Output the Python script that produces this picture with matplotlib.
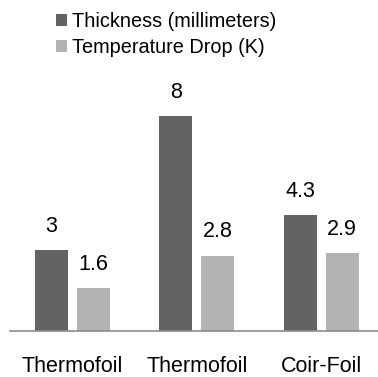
import matplotlib.pyplot as plt
import numpy as np

plt.rcParams['font.family'] = ['Liberation Sans', 'DejaVu Sans']

# chart data
categories = ['Thermofoil', 'Thermofoil', 'Coir-Foil']
thickness = [3, 8, 4.3]
temp_drop = [1.6, 2.8, 2.9]
series_names = ['Thickness (millimeters)', 'Temperature Drop (K)']

dark = '#636363'
light = '#b3b3b3'

fig = plt.figure(figsize=(3.78, 3.77), dpi=100)
# axes placed in pixels: baseline at y=330, 26.9 px per unit
ax = fig.add_axes([10 / 378, 46 / 377, 373.5 / 378, 269 / 377])

x = np.arange(len(categories))
w = 0.265
off = 0.169
b1 = ax.bar(x - off, thickness, w, color=dark, label=series_names[0])
b2 = ax.bar(x + off, temp_drop, w, color=light, label=series_names[1])

for bars, vals in [(b1, thickness), (b2, temp_drop)]:
    for rect, v in zip(bars, vals):
        ax.annotate(f'{v:g}', (rect.get_x() + rect.get_width() / 2, v),
                    xytext=(0, 9.5), textcoords='offset points',
                    ha='center', va='bottom', fontsize=15.5, color='black')

ax.set_xlim(-0.5, 2.5)
ax.set_ylim(0, 10)
ax.set_yticks([])
ax.set_xticks(x)
ax.set_xticklabels(categories, fontsize=15.5)
ax.tick_params(axis='x', length=0, pad=18)
for s in ['top', 'right', 'left']:
    ax.spines[s].set_visible(False)
ax.spines['bottom'].set_color('#8c8c8c')
ax.spines['bottom'].set_linewidth(1.2)

fig.legend(handles=[b1, b2], loc='upper left', bbox_to_anchor=(44 / 378, 1.0),
           frameon=False, fontsize=14.3, handlelength=0.55, handleheight=0.55,
           handletextpad=0.28, labelspacing=0.35, borderaxespad=0.2)

fig.savefig('out.png', dpi=100)
